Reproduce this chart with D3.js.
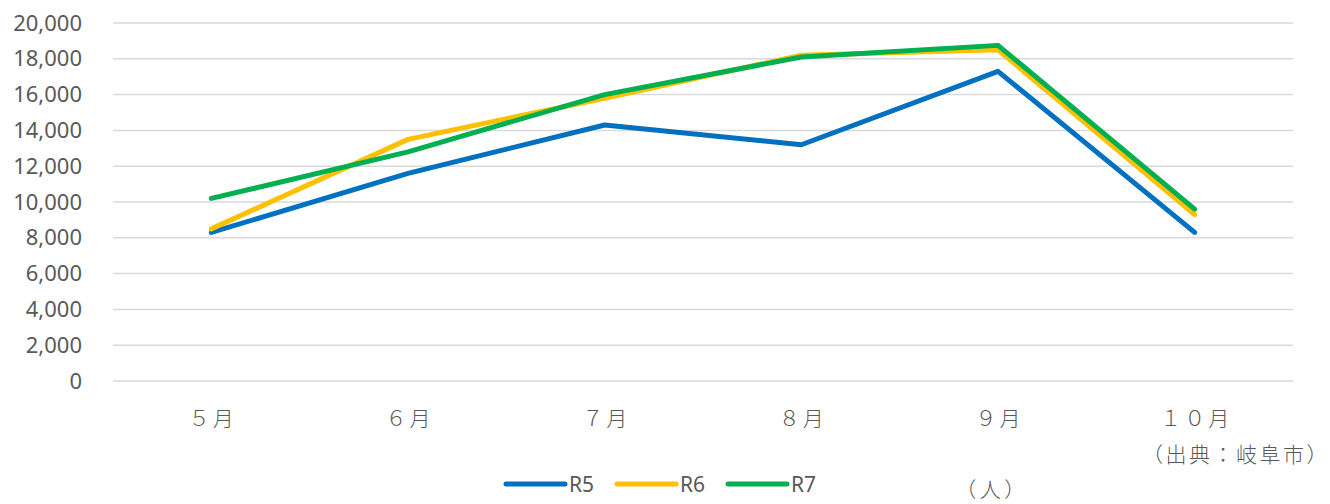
<!DOCTYPE html>
<html><head><meta charset="utf-8">
<script src="https://cdn.jsdelivr.net/npm/d3@7"></script>
<style>body{margin:0;background:#fff}svg{display:block}</style>
</head><body><svg id="c" width="1330" height="504"></svg>
<script>
const categories = ["５月","６月","７月","８月","９月","１０月"];
const seriesNames = ["R5","R6","R7"];
const r5 = [8300, 11600, 14300, 13200, 17300, 8300];
const r6 = [8500, 13500, 15800, 18200, 18500, 9300];
const r7 = [10200, 12800, 16000, 18100, 18750, 9600];
const yTicks = [0,2000,4000,6000,8000,10000,12000,14000,16000,18000,20000];
const colors = ["#0070C0","#FFC000","#00B050"];
const series = [r5, r6, r7];

(function(){
const svg = d3.select("#c");
const mLeft = 113, mRight = 1293, mTop = 23, mBottom = 381;
const x = d3.scaleBand().domain(categories).range([mLeft, mRight]);
const y = d3.scaleLinear().domain([0, 20000]).range([mBottom, mTop]);
const jp = "'Noto Sans CJK JP', sans-serif";

svg.append("g").selectAll("line").data(yTicks).join("line")
  .attr("x1", mLeft).attr("x2", mRight)
  .attr("y1", d => y(d)).attr("y2", d => y(d))
  .attr("stroke", "#d9d9d9").attr("stroke-width", 1.5);

const yAxis = svg.append("g").attr("transform", `translate(${mLeft},0)`)
  .call(d3.axisLeft(y).tickValues(yTicks).tickFormat(d3.format(",")).tickSize(0).tickPadding(31));
yAxis.select(".domain").remove();
yAxis.selectAll("text").attr("fill", "#595959").style("font-family", "'Noto Sans', sans-serif").style("font-size", "22px");

const xAxis = svg.append("g").attr("transform", `translate(0,${mBottom})`)
  .call(d3.axisBottom(x).tickSize(0));
xAxis.select(".domain").remove();
xAxis.selectAll("text").attr("y", 45).attr("dy", null).attr("dx", "1.5px")
  .attr("fill", "#595959").style("font-family", jp).style("font-size", "21px")
  .style("letter-spacing", "3px").style("font-weight", 300);

const line = d3.line().x((d, i) => x(categories[i]) + x.bandwidth() / 2).y(d => y(d));
series.forEach((s, k) => {
  svg.append("path").datum(s).attr("d", line)
    .attr("fill", "none").attr("stroke", colors[k]).attr("stroke-width", 5)
    .attr("stroke-linejoin", "round").attr("stroke-linecap", "round");
});

const legX = [506, 617, 728];
const lg = svg.append("g");
seriesNames.forEach((n, k) => {
  lg.append("line").attr("x1", legX[k]).attr("x2", legX[k] + 59).attr("y1", 484).attr("y2", 484)
    .attr("stroke", colors[k]).attr("stroke-width", 5).attr("stroke-linecap", "round");
  lg.append("text").attr("x", legX[k] + 63).attr("y", 492).text(n)
    .attr("fill", "#595959").style("font-family", "'Noto Sans', sans-serif").style("font-size", "21px");
});

svg.append("text").attr("x", 1330).attr("y", 462).attr("text-anchor", "end").text("（出典：岐阜市）")
  .attr("fill", "#595959").style("font-family", jp).style("font-size", "21px")
  .style("letter-spacing", "2.5px").style("font-weight", 300);
svg.append("text").attr("x", 992).attr("y", 497).attr("text-anchor", "middle").text("（人）")
  .attr("fill", "#595959").style("font-family", jp).style("font-size", "21px")
  .style("letter-spacing", "3.5px").style("font-weight", 300);
})();
</script></body></html>
